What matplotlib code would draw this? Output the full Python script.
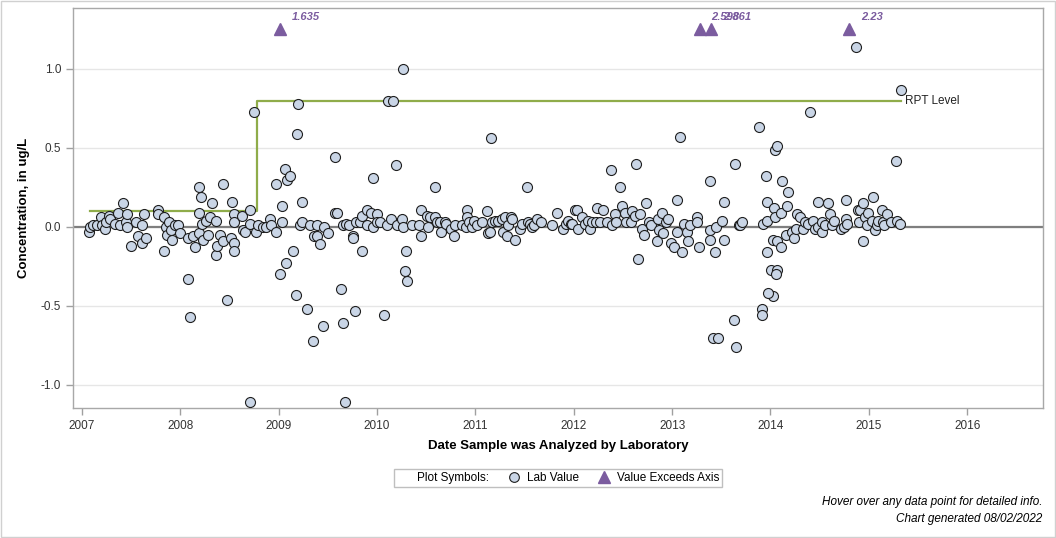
import matplotlib
matplotlib.use('Agg')
import matplotlib.pyplot as plt
from matplotlib.lines import Line2D
from matplotlib.patches import Rectangle

plt.rcParams['font.family'] = ['Liberation Sans', 'DejaVu Sans']

# decimal year of analysis, concentration in ug/L
dates = [
    2007.07, 2007.08, 2007.11, 2007.15, 2007.19, 2007.20, 2007.24, 2007.25, 2007.28, 2007.29,
    2007.34, 2007.37, 2007.39, 2007.42, 2007.45, 2007.46, 2007.46, 2007.50, 2007.55, 2007.57,
    2007.61, 2007.61, 2007.63, 2007.65, 2007.77, 2007.77, 2007.83, 2007.84, 2007.86, 2007.87,
    2007.89, 2007.91, 2007.92, 2007.95, 2007.98, 2008.00,
    2008.08, 2008.08, 2008.10, 2008.13, 2008.15, 2008.19, 2008.21, 2008.19, 2008.19, 2008.23,
    2008.22, 2008.26, 2008.28, 2008.30, 2008.32, 2008.36, 2008.36, 2008.37, 2008.40, 2008.43,
    2008.43, 2008.48, 2008.52, 2008.53, 2008.55, 2008.55, 2008.55, 2008.55, 2008.63, 2008.64,
    2008.66, 2008.71, 2008.75, 2008.71, 2008.71, 2008.77, 2008.79, 2008.84, 2008.87, 2008.91,
    2008.92, 2008.97, 2008.97,
    2009.01, 2009.03, 2009.03, 2009.07, 2009.08, 2009.09, 2009.12, 2009.15, 2009.18, 2009.19,
    2009.20, 2009.22, 2009.24, 2009.24, 2009.29, 2009.32, 2009.35, 2009.36, 2009.39, 2009.39,
    2009.42, 2009.45, 2009.46, 2009.50, 2009.57, 2009.57, 2009.59, 2009.63, 2009.65, 2009.67,
    2009.65, 2009.69, 2009.72, 2009.76, 2009.76, 2009.78, 2009.79, 2009.83, 2009.85, 2009.85,
    2009.90, 2009.90, 2009.94, 2009.96, 2009.96,
    2010.00, 2010.00, 2010.03, 2010.07, 2010.11, 2010.16, 2010.10, 2010.14, 2010.19, 2010.20,
    2010.25, 2010.26, 2010.26, 2010.29, 2010.28, 2010.31, 2010.36, 2010.43, 2010.45, 2010.45,
    2010.51, 2010.52, 2010.54, 2010.59, 2010.59, 2010.61, 2010.64, 2010.65, 2010.69, 2010.70,
    2010.75, 2010.78, 2010.79, 2010.86, 2010.90, 2010.92, 2010.92, 2010.94, 2010.97, 2010.99,
    2011.02, 2011.07, 2011.12, 2011.13, 2011.15, 2011.16, 2011.17, 2011.20, 2011.23, 2011.27,
    2011.28, 2011.30, 2011.32, 2011.33, 2011.36, 2011.37, 2011.40, 2011.45, 2011.47, 2011.52,
    2011.53, 2011.56, 2011.58, 2011.60, 2011.63, 2011.67, 2011.78, 2011.83, 2011.89, 2011.92,
    2011.94, 2011.97, 2012.01, 2011.98,
    2012.03, 2012.04, 2012.08, 2012.11, 2012.14, 2012.17, 2012.19, 2012.23, 2012.24, 2012.27,
    2012.30, 2012.34, 2012.38, 2012.39, 2012.42, 2012.43, 2012.47, 2012.49, 2012.52, 2012.53,
    2012.58, 2012.59, 2012.63, 2012.62, 2012.65, 2012.67, 2012.69, 2012.71, 2012.73, 2012.77,
    2012.79, 2012.85, 2012.86, 2012.87, 2012.90, 2012.91, 2012.94, 2012.96, 2012.99,
    2013.02, 2013.05, 2013.05, 2013.08, 2013.10, 2013.12, 2013.15, 2013.16, 2013.18, 2013.25,
    2013.25, 2013.27, 2013.38, 2013.39, 2013.38, 2013.42, 2013.47, 2013.44, 2013.45, 2013.51,
    2013.53, 2013.53, 2013.64, 2013.63, 2013.65, 2013.68, 2013.69, 2013.71, 2013.88, 2013.92,
    2013.95, 2013.96, 2013.96, 2013.96, 2014.01, 2014.03, 2013.97, 2013.91, 2013.91,
    2014.04, 2014.05, 2014.05, 2014.07, 2014.03, 2014.07, 2014.07, 2014.06, 2014.12, 2014.11,
    2014.11, 2014.16, 2014.17, 2014.18, 2014.22, 2014.24, 2014.26, 2014.27, 2014.30, 2014.33,
    2014.35, 2014.38, 2014.40, 2014.43, 2014.45, 2014.48, 2014.48, 2014.52, 2014.52, 2014.55,
    2014.58, 2014.60, 2014.63, 2014.65, 2014.72, 2014.75, 2014.77, 2014.77, 2014.78, 2014.87,
    2014.89, 2014.90, 2014.91, 2014.94, 2014.94, 2014.96, 2014.98, 2014.99,
    2015.04, 2015.03, 2015.06, 2015.08, 2015.09, 2015.13, 2015.14, 2015.18, 2015.15, 2015.23,
    2015.28, 2015.29, 2015.32, 2015.33,
]
values = [
    -0.03, 0.00, 0.01, 0.01, 0.06, 0.01, -0.01, 0.03, 0.07, 0.05,
    0.02, 0.09, 0.01, 0.15, 0.03, 0.08, 0.00, -0.12, 0.03, -0.06,
    -0.10, 0.01, 0.08, -0.07, 0.11, 0.08, 0.06, -0.15, 0.00, -0.05,
    0.03, -0.02, -0.08, 0.01, 0.01, -0.04,
    -0.07, -0.33, -0.57, -0.06, -0.13, 0.25, 0.19, 0.09, -0.04, -0.08,
    0.02, 0.04, -0.05, 0.06, 0.15, 0.04, -0.18, -0.12, -0.05, -0.09,
    0.27, -0.46, -0.07, 0.16, -0.10, -0.15, 0.08, 0.03, 0.07, -0.02,
    -0.03, 0.11, 0.73, -1.11, 0.02, -0.03, 0.01, 0.00, 0.00, 0.05,
    0.01, -0.03, 0.27,
    -0.30, 0.13, 0.03, 0.37, -0.23, 0.30, 0.32, -0.15, -0.43, 0.59,
    0.78, 0.01, 0.16, 0.03, -0.52, 0.01, -0.72, -0.06, -0.06, 0.01,
    -0.11, -0.63, 0.00, -0.04, 0.44, 0.09, 0.09, -0.39, -0.61, -1.11,
    0.01, 0.02, 0.01, -0.06, -0.07, -0.53, 0.03, 0.03, -0.15, 0.07,
    0.11, 0.01, 0.09, 0.31, 0.00,
    0.08, 0.03, 0.03, -0.56, 0.80, 0.80, 0.01, 0.05, 0.39, 0.01,
    0.05, 1.00, 0.00, -0.15, -0.28, -0.34, 0.01, 0.01, -0.06, 0.11,
    0.07, 0.00, 0.06, 0.25, 0.06, 0.03, 0.03, -0.03, 0.03, 0.02,
    -0.01, -0.06, 0.01, 0.01, 0.00, 0.11, 0.06, 0.03, 0.00, 0.04,
    0.01, 0.03, 0.10, -0.04, -0.03, 0.56, 0.03, 0.04, 0.04, 0.05,
    -0.03, 0.06, -0.06, 0.01, 0.06, 0.05, -0.08, -0.01, 0.02, 0.25,
    0.03, 0.02, 0.00, 0.01, 0.05, 0.03, 0.01, 0.09, -0.01, 0.02,
    0.04, 0.02, 0.11, 0.02,
    0.11, -0.01, 0.06, 0.02, 0.04, -0.01, 0.03, 0.03, 0.12, 0.03,
    0.11, 0.03, 0.36, 0.01, 0.08, 0.03, 0.25, 0.13, 0.09, 0.03,
    0.03, 0.10, 0.40, 0.07, -0.20, 0.08, -0.01, -0.05, 0.15, 0.03,
    0.01, -0.09, 0.05, -0.02, 0.09, -0.04, 0.03, 0.05, -0.10,
    -0.13, -0.03, 0.17, 0.57, -0.16, 0.02, -0.03, -0.09, 0.01, 0.06,
    0.03, -0.13, -0.02, 0.29, -0.08, -0.70, -0.70, -0.16, 0.00, 0.04,
    0.16, -0.08, 0.40, -0.59, -0.76, 0.01, 0.01, 0.03, 0.63, 0.02,
    0.32, 0.16, 0.04, -0.16, -0.27, -0.44, -0.42, -0.52, -0.56,
    0.12, 0.06, 0.49, 0.51, -0.08, -0.09, -0.27, -0.30, 0.29, 0.09,
    -0.13, -0.05, 0.13, 0.22, -0.03, -0.07, -0.01, 0.08, 0.06, -0.01,
    0.03, 0.02, 0.73, 0.04, -0.01, 0.16, 0.00, 0.03, -0.03, 0.01,
    0.15, 0.08, 0.01, 0.04, -0.01, 0.00, 0.05, 0.17, 0.02, 1.14,
    0.11, 0.03, 0.11, 0.15, -0.09, 0.06, 0.01, 0.09,
    0.19, 0.04, -0.02, 0.01, 0.04, 0.11, 0.03, 0.08, 0.01, 0.03,
    0.42, 0.04, 0.02, 0.87,
]

# values above the axis limit
exceed_dates = [2009.01, 2013.28, 2013.40, 2014.80]
exceed_labels = ['1.635', '2.598', '2.861', '2.23']
exceed_plot_value = 1.25

# reporting level steps
rpt_dates = [2007.08, 2008.78, 2008.78, 2015.33]
rpt_values = [0.1, 0.1, 0.8, 0.8]

years = list(range(2007, 2017))
yticks = [-1.0, -0.5, 0.0, 0.5, 1.0]

fig = plt.figure(figsize=(10.56, 5.38), dpi=100)
ax = fig.add_axes([73 / 1056, 1 - 408 / 538, 970 / 1056, 400 / 538])

grid_c = '#e6e6e6'
for y in yticks:
    ax.axhline(y, color=grid_c, lw=1, zorder=0)
ax.axhline(0, color='#7f7f7f', lw=1.6, zorder=1)

ax.plot(rpt_dates, rpt_values, color='#8fac4a', lw=1.6, zorder=2)
ax.text(rpt_dates[-1] + 0.04, rpt_values[-1], 'RPT Level', fontsize=8.5,
        va='center', ha='left', color='#222222')

ax.plot(dates, values, linestyle='none', marker='o', ms=7.2,
        mfc='#c9d5e6', mec='#1e1e1e', mew=0.8, zorder=3)

ax.plot(exceed_dates, [exceed_plot_value] * len(exceed_dates), linestyle='none',
        marker='^', ms=8, color='#7b5c9f', zorder=3)
for d, lab in zip(exceed_dates, exceed_labels):
    ax.text(d + 0.12, exceed_plot_value + 0.045, lab, fontsize=8, color='#7b5c9f',
            fontweight='bold', fontstyle='italic', ha='left', va='bottom')

ax.set_xlim(2006.91, 2016.77)
ax.set_ylim(-1.146, 1.386)
ax.set_xticks(years)
ax.set_xticklabels([str(y) for y in years])
ax.set_yticks(yticks)
ax.set_yticklabels(['%.1f' % y for y in yticks])
ax.tick_params(axis='both', labelsize=8.5, colors='#333333', length=5, width=1)
ax.tick_params(axis='both', color='#a0a0a0')
for s in ax.spines.values():
    s.set_color('#a8a8a8')
    s.set_linewidth(1)

ax.set_ylabel('Concentration, in ug/L', fontsize=9.5, fontweight='bold', labelpad=8)
ax.set_xlabel('Date Sample was Analyzed by Laboratory', fontsize=9.5, fontweight='bold',
              labelpad=6)

handles = [Line2D([], [], linestyle='none'),
           Line2D([], [], linestyle='none', marker='o', ms=7, mfc='#c9d5e6',
                  mec='#1e1e1e', mew=0.8),
           Line2D([], [], linestyle='none', marker='^', ms=8, color='#7b5c9f')]
leg = fig.legend(handles, ['Plot Symbols:', 'Lab Value', 'Value Exceeds Axis'],
                 loc='center', bbox_to_anchor=(558 / 1056, 1 - 478 / 538), ncol=3,
                 fontsize=8.5, frameon=True, fancybox=False, handlelength=1.2,
                 handletextpad=0.5, columnspacing=1.5, borderpad=0.25)
leg.get_frame().set_edgecolor('#b0b0b0')
leg.get_frame().set_linewidth(1)

fig.text(1042 / 1056, 1 - 502 / 538, 'Hover over any data point for detailed info.',
         ha='right', va='center', fontsize=8.5, fontstyle='italic')
fig.text(1042 / 1056, 1 - 519 / 538, 'Chart generated 08/02/2022',
         ha='right', va='center', fontsize=8.5, fontstyle='italic')

fig.patches.append(Rectangle((0.001, 0.001), 0.998, 0.998, transform=fig.transFigure,
                             fill=False, edgecolor='#d0d0d0', lw=1))

fig.savefig('out.png', dpi=100)
